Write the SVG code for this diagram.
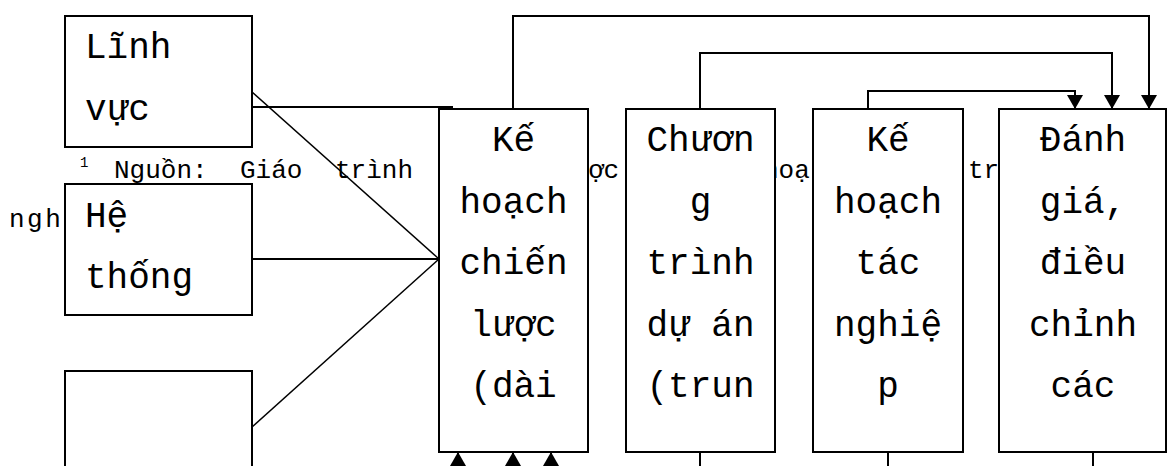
<svg xmlns="http://www.w3.org/2000/svg" width="1168" height="466" viewBox="0 0 1168 466">
  <style>
    .box { fill: #fff; stroke: #000; stroke-width: 2; }
    .lbl { font-family: "Courier New", "Liberation Mono", monospace; font-size: 36px; fill: #000; }
    .mid { text-anchor: middle; }
    .note { font-family: "Courier New", "Liberation Mono", monospace; font-size: 26px; fill: #000; }
    .sup { font-family: "Courier New", "Liberation Mono", monospace; font-size: 14px; fill: #000; }
    .wire { fill: none; stroke: #000; stroke-width: 2; }
    .slant { fill: none; stroke: #000; stroke-width: 1.5; }
  </style>
  <defs>
    <marker id="arrow" markerUnits="userSpaceOnUse" viewBox="0 0 14 16" markerWidth="14" markerHeight="16" refX="14" refY="8" orient="auto">
      <path d="M0,0 L14,8 L0,16 z" fill="#000"/>
    </marker>
  </defs>

  <rect width="1168" height="466" fill="#fff"/>

  <!-- footnote text running behind the boxes -->
  <g id="footnote">
    <text class="sup" x="80" y="167">1</text>
    <text class="note" x="114" y="178">Nguồn:</text>
    <text class="note" x="240" y="178">Giáo</text>
    <text class="note" x="335" y="178">trình</text>
    <text class="note" x="588" y="178">ợc</text>
    <text class="note" x="763" y="178">hoạ</text>
    <text class="note" x="968" y="178">tr</text>
    <text class="note" x="9" y="226.5" letter-spacing="2.5">ngh</text>
  </g>

  <!-- left-hand inputs -->
  <g id="linh-vuc">
    <rect class="box" x="65" y="16" width="187" height="131"/>
    <text class="lbl" x="85" y="58">Lĩnh</text>
    <text class="lbl" x="85" y="119.5">vực</text>
  </g>
  <g id="he-thong">
    <rect class="box" x="65" y="184" width="187" height="131"/>
    <text class="lbl" x="85" y="226.5">Hệ</text>
    <text class="lbl" x="85" y="288">thống</text>
  </g>
  <g id="input-3">
    <rect class="box" x="65" y="371" width="187" height="120"/>
  </g>

  <!-- planning stages -->
  <g id="ke-hoach-chien-luoc">
    <rect class="box" x="439" y="109" width="149" height="343"/>
    <text class="lbl mid" x="513.5" y="151">Kế</text>
    <text class="lbl mid" x="513.5" y="212.5">hoạch</text>
    <text class="lbl mid" x="513.5" y="274">chiến</text>
    <text class="lbl mid" x="513.5" y="335.5">lược</text>
    <text class="lbl mid" x="513.5" y="397">(dài</text>
  </g>
  <g id="chuong-trinh-du-an">
    <rect class="box" x="626" y="109" width="149" height="343"/>
    <text class="lbl mid" x="700.5" y="151">Chươn</text>
    <text class="lbl mid" x="700.5" y="212.5">g</text>
    <text class="lbl mid" x="700.5" y="274">trình</text>
    <text class="lbl mid" x="700.5" y="335.5">dự án</text>
    <text class="lbl mid" x="700.5" y="397">(trun</text>
  </g>
  <g id="ke-hoach-tac-nghiep">
    <rect class="box" x="813" y="109" width="150" height="343"/>
    <text class="lbl mid" x="888" y="151">Kế</text>
    <text class="lbl mid" x="888" y="212.5">hoạch</text>
    <text class="lbl mid" x="888" y="274">tác</text>
    <text class="lbl mid" x="888" y="335.5">nghiệ</text>
    <text class="lbl mid" x="888" y="397">p</text>
  </g>
  <g id="danh-gia-dieu-chinh">
    <rect class="box" x="999" y="109" width="167" height="343"/>
    <text class="lbl mid" x="1083" y="151">Đánh</text>
    <text class="lbl mid" x="1083" y="212.5">giá,</text>
    <text class="lbl mid" x="1083" y="274">điều</text>
    <text class="lbl mid" x="1083" y="335.5">chỉnh</text>
    <text class="lbl mid" x="1083" y="397">các</text>
  </g>

  <g id="connectors">
    <!-- inputs converging on the strategic plan -->
    <path class="slant" d="M252,92 L439,259"/>
    <path class="wire" d="M252,107 H453"/>
    <path class="wire" d="M252,259 H439"/>
    <path class="slant" d="M252,427 L439,259"/>

    <!-- feedback lines into evaluation -->
    <path class="wire" d="M513,109 V16 H1149 V109" marker-end="url(#arrow)"/>
    <path class="wire" d="M700,109 V53 H1112 V109" marker-end="url(#arrow)"/>
    <path class="wire" d="M868,109 V91 H1075 V109" marker-end="url(#arrow)"/>

    <!-- arrows up into the strategic plan -->
    <path class="wire" d="M458,480 V452" marker-end="url(#arrow)"/>
    <path class="wire" d="M513,480 V452" marker-end="url(#arrow)"/>
    <path class="wire" d="M551,480 V452" marker-end="url(#arrow)"/>

    <!-- lines leaving the bottom of the stages -->
    <path class="wire" d="M700,452 V470"/>
    <path class="wire" d="M888,452 V470"/>
    <path class="wire" d="M1093,452 V470"/>
  </g>
</svg>
